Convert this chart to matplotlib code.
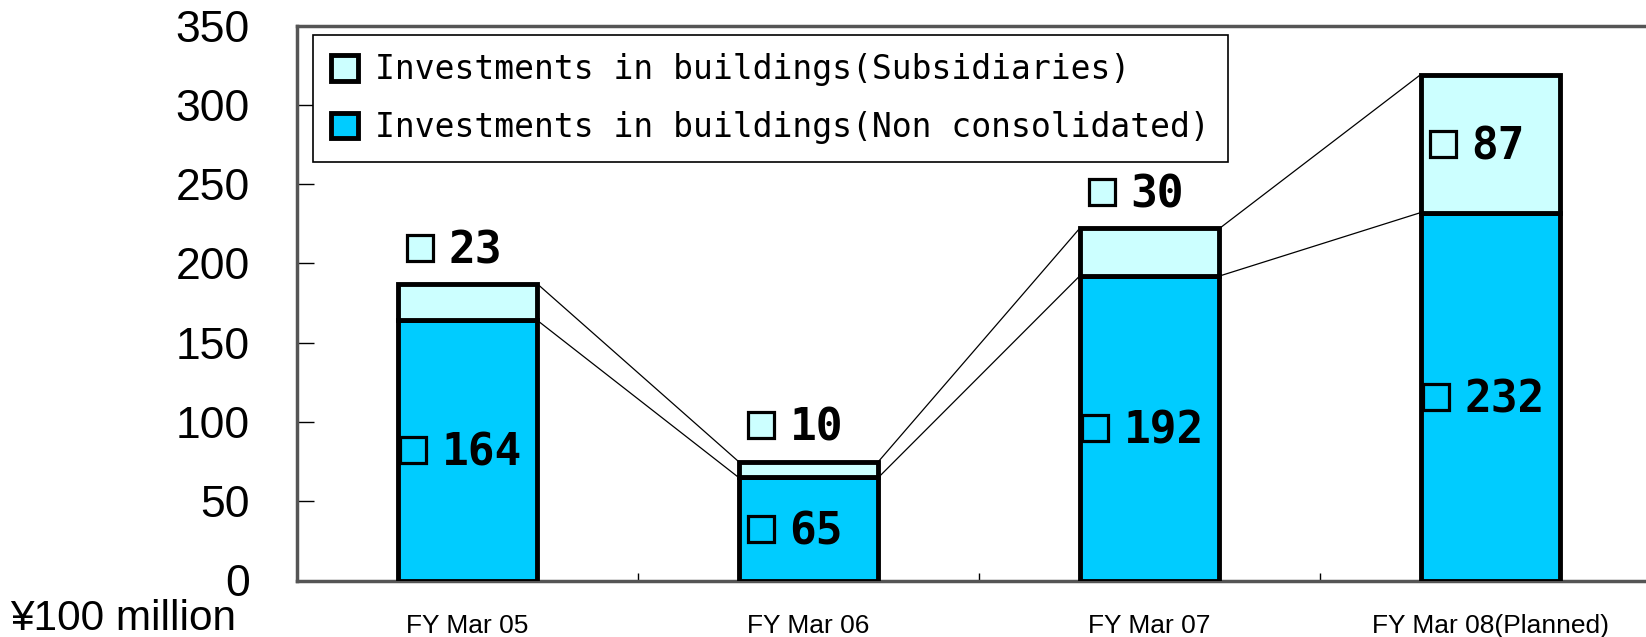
import matplotlib
matplotlib.use('Agg')
import matplotlib.pyplot as plt
import matplotlib.transforms as mtransforms
import numpy as np

# data (unit: 100 million yen)
categories = ['FY Mar 05', 'FY Mar 06', 'FY Mar 07', 'FY Mar 08(Planned)']
non_consolidated = [164, 65, 192, 232]
subsidiaries = [23, 10, 30, 87]
series_names = ['Investments in buildings(Subsidiaries)',
                'Investments in buildings(Non consolidated)']

col_sub = '#CCFFFF'
col_non = '#00CCFF'

plt.rcParams['font.family'] = ['Liberation Sans', 'DejaVu Sans']

fig = plt.figure(figsize=(16.46, 6.37), dpi=100)
ax = fig.add_axes([297 / 1646, 1 - 580.5 / 637, 1364 / 1646, 555 / 637])

x = np.arange(len(categories))
w = 0.41
lower = np.array(non_consolidated)
upper = np.array(subsidiaries)
total = lower + upper

b_non = ax.bar(x, lower, width=w, color=col_non, edgecolor='black', linewidth=3.5, zorder=3)
b_sub = ax.bar(x, upper, bottom=lower, width=w, color=col_sub, edgecolor='black',
               linewidth=3.5, zorder=3)

# series lines between bars
for i in range(len(x) - 1):
    for vals in (lower, total):
        ax.plot([x[i] + w / 2, x[i + 1] - w / 2], [vals[i], vals[i + 1]],
                color='black', lw=0.9, zorder=2)


def label(xi, yi, val, fc):
    n = len(str(val))
    dx = -(34 + 7 * n)
    tr = mtransforms.offset_copy(ax.transData, fig=fig, x=dx, y=0, units='dots')
    ax.plot([xi], [yi], marker='s', markersize=19, mfc=fc, mec='black', mew=2.3,
            transform=tr, zorder=5, clip_on=False)
    tr2 = mtransforms.offset_copy(ax.transData, fig=fig, x=dx + 29, y=-3, units='dots')
    ax.text(xi, yi, str(val), transform=tr2, ha='left', va='center',
            fontsize=32, fontweight='bold', family='DejaVu Sans Mono', zorder=5)


for i in range(len(x)):
    label(x[i], lower[i] / 2, lower[i], col_non)
    ys = lower[i] + upper[i] / 2 if upper[i] > 50 else total[i] + 23
    label(x[i], ys, upper[i], col_sub)

ax.set_xlim(-0.5, 3.5)
ax.set_ylim(0, 350)
ax.set_yticks(range(0, 351, 50))
ax.tick_params(axis='y', direction='in', length=12, width=1, color='black',
               labelsize=32, pad=34)
ax.set_xticks(x)
ax.set_xticklabels(categories)
ax.set_xticks(x[:-1] + 0.5, minor=True)
ax.tick_params(axis='x', which='major', length=0, labelsize=19, pad=24)
ax.tick_params(axis='x', which='minor', direction='in', length=6, width=1, color='black')

for s in ['left', 'top', 'bottom']:
    ax.spines[s].set_color('#555555')
    ax.spines[s].set_linewidth(2.5)
ax.spines['right'].set_visible(False)

leg = ax.legend([b_sub, b_non], series_names, loc='upper left',
                bbox_to_anchor=(313 / 1646, 1 - 35 / 637), bbox_transform=fig.transFigure,
                prop={'family': 'DejaVu Sans Mono', 'size': 23.8},
                handlelength=0.82, handleheight=0.82, handletextpad=0.5,
                labelspacing=0.75, borderpad=0.55, borderaxespad=0,
                fancybox=False, framealpha=1, edgecolor='black')
leg.get_frame().set_linewidth(1.2)
leg.set_zorder(6)

fig.text(10 / 1646, 1 - 630 / 637, '¥100 million', fontsize=30.5, va='baseline', ha='left')

fig.savefig('out.png', dpi=100)
